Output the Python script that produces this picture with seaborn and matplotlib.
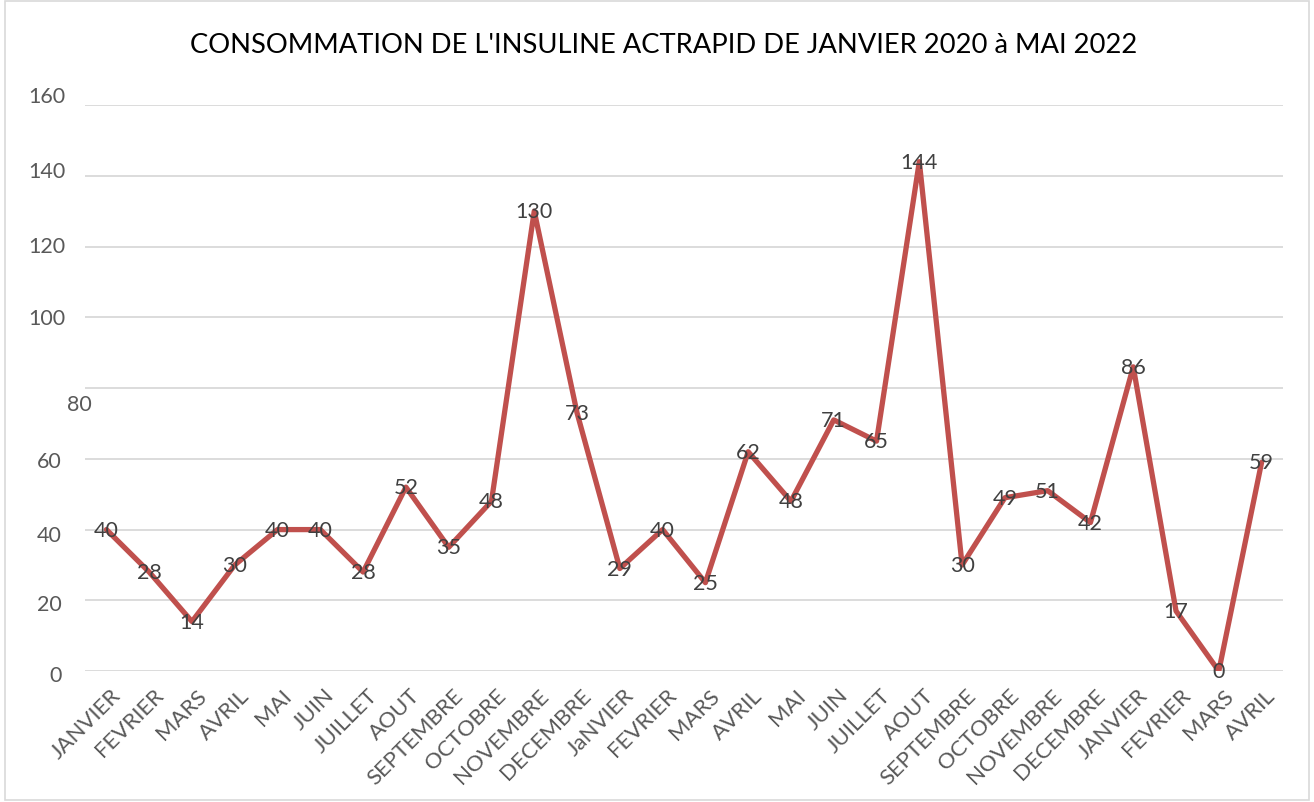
import numpy as np
import pandas as pd
import matplotlib.pyplot as plt
import matplotlib.transforms as mtransforms
from matplotlib.patches import Rectangle
import seaborn as sns

sns.set_style("white")
plt.rcParams["font.family"] = ["Lato", "DejaVu Sans"]

# data (janvier 2020 -> avril 2022)
mois = ["JANVIER", "FEVRIER", "MARS", "AVRIL", "MAI", "JUIN", "JUILLET", "AOUT",
        "SEPTEMBRE", "OCTOBRE", "NOVEMBRE", "DECEMBRE",
        "JaNVIER", "FEVRIER", "MARS", "AVRIL", "MAI", "JUIN", "JUILLET", "AOUT",
        "SEPTEMBRE", "OCTOBRE", "NOVEMBRE", "DECEMBRE",
        "JANVIER", "FEVRIER", "MARS", "AVRIL"]
consommation = [40, 28, 14, 30, 40, 40, 28, 52, 35, 48, 130, 73,
                29, 40, 25, 62, 48, 71, 65, 144, 30, 49, 51, 42,
                86, 17, 0, 59]
yticks = [0, 20, 40, 60, 80, 100, 120, 140, 160]
titre = "CONSOMMATION DE L'INSULINE ACTRAPID DE JANVIER 2020 à MAI 2022"

df = pd.DataFrame({"pos": np.arange(len(mois)), "mois": mois, "valeur": consommation})

LINE = "#C0504D"
TXT = "#595959"
GRID = "#D9D9D9"

fig = plt.figure(figsize=(13.14, 8.03), dpi=100)
ax = fig.add_axes([0.0647, 0.163, 0.9117, 0.705])

sns.lineplot(data=df, x="pos", y="valeur", sort=False, color=LINE, linewidth=3.8, ax=ax)

for _, r in df.iterrows():
    ax.text(r["pos"], r["valeur"], str(r["valeur"]), ha="center", va="center",
            fontsize=15.5, color="#404040")

ax.set_xlim(-0.5, len(mois) - 0.5)
ax.set_ylim(0, 160)
ax.set_yticks(yticks)
ax.set_yticklabels([str(v) for v in yticks], fontsize=15.5, color=TXT)
ax.grid(axis="y", color=GRID, linewidth=1.3)
ax.grid(axis="x", visible=False)
ax.set_axisbelow(True)
for s in ax.spines.values():
    s.set_visible(False)
ax.tick_params(axis="y", length=0, pad=14)
ax.tick_params(axis="x", length=0, pad=4)

# the y labels in the original image drift a little off their gridlines (px)
decalage = {0: (-4, -2), 20: (-4, -2), 40: (-4, -3), 60: (-4, 0), 80: (26, -14),
            100: (0, 1), 120: (0, 3), 140: (0, 7), 160: (0, 11)}
for lab, v in zip(ax.get_yticklabels(), yticks):
    dx, dy = decalage[v]
    off = mtransforms.ScaledTranslation(dx / 100, dy / 100, fig.dpi_scale_trans)
    lab.set_transform(lab.get_transform() + off)

ax.set_xticks(df["pos"])
ax.set_xticklabels(df["mois"], rotation=45, ha="right", rotation_mode="anchor",
                   fontsize=16, color=TXT)
xoff = mtransforms.ScaledTranslation(4 / 100, -8 / 100, fig.dpi_scale_trans)
for lab in ax.get_xticklabels():
    lab.set_transform(lab.get_transform() + xoff)

ax.set_xlabel("")
ax.set_ylabel("")
fig.text(0.505, 0.943, titre, ha="center", va="center", fontsize=19.7, color="black")

fig.patches.append(Rectangle((0.004, 0.002), 0.992, 0.996, transform=fig.transFigure,
                             fill=False, edgecolor=GRID, linewidth=1.2))

fig.savefig("out.png", dpi=100)
